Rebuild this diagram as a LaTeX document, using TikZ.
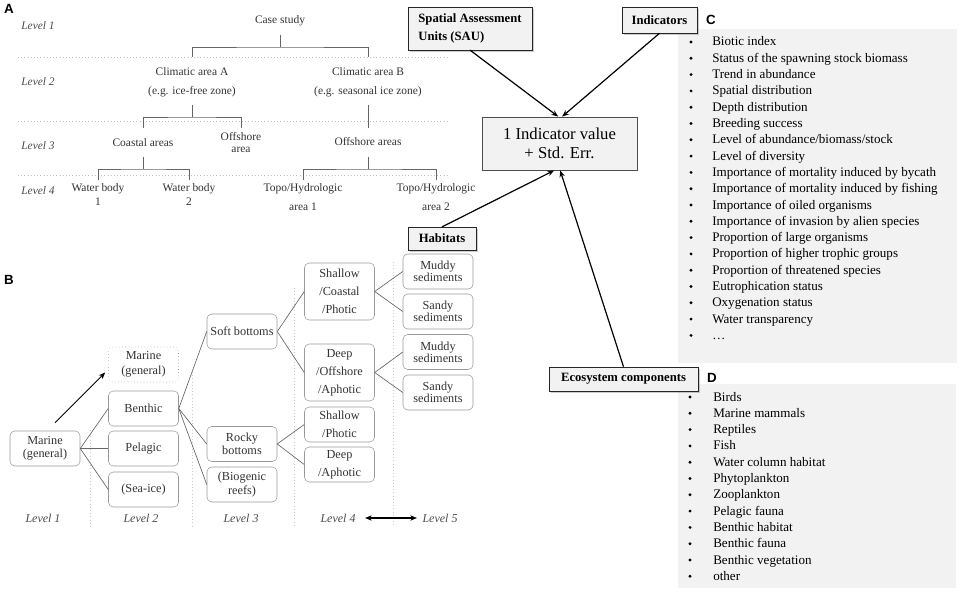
\documentclass[tikz,border=0pt]{standalone}
\usepackage{fontspec}
\setmainfont{Liberation Serif}
\newfontfamily\panelfont{Liberation Sans}
\usetikzlibrary{arrows.meta,shadows}

\begin{document}
\begin{tikzpicture}[>={Stealth[length=5pt,width=4pt]},x=0.75pt,y=-0.75pt,
	ttxt/.style={text=black!80,font=\fontsize{8.6}{10}\selectfont,align=center,inner sep=0pt},
	lvl/.style={text=black!70,font=\fontsize{8.6}{10}\selectfont\itshape,inner sep=0pt},
	hbox/.style={draw=black!40,rounded corners=3.5pt,fill=white,text=black!80,font=\fontsize{9.2}{10}\selectfont,align=center,minimum width=52.5pt,minimum height=26.25pt,inner sep=1pt},
	kbox/.style={draw=black!85,fill=black!5,font=\fontsize{9.5}{11.5}\selectfont\bfseries,drop shadow={shadow xshift=1.5pt,shadow yshift=-1.5pt,opacity=0.4},inner sep=0pt},
	lbl/.style={font=\panelfont\bfseries\fontsize{10}{12}\selectfont,inner sep=0pt},
	item/.style={font=\fontsize{9.8}{12}\selectfont,anchor=base west,inner sep=0pt},
	tree/.style={black!60,line width=0.5pt},
	arr/.style={->,line width=0.9pt}]
	\useasboundingbox (0,0) rectangle (964,592);
	% grey panels C and D
	\fill[black!5] (678,29) rectangle (957,363);
	\fill[black!5] (678,384) rectangle (956,588);
	
	% A: spatial levels
	\node[lbl] (la) at (9,9) {A};
	\foreach \l/\y in {1/26,2/82,3/146,4/191} \node[lvl] (al\l) at (38,\y) {Level \l};
	\foreach \y in {57,121,175} \draw[black!25,dotted] (18,\y) -- (448,\y);
	\node[ttxt] (case) at (280,21) {Case study};
	\node[ttxt] (climA) at (192,82.5) {Climatic area A\\[4.3pt](e.g. ice-free zone)};
	\node[ttxt] (climB) at (368,82.5) {Climatic area B\\[4.3pt](e.g. seasonal ice zone)};
	\node[ttxt] (coast) at (143,143) {Coastal areas};
	\node[ttxt] (offA) at (241,143) {Offshore\\[-1pt]area};
	\node[ttxt] (offB) at (368,142) {Offshore areas};
	\node[ttxt] (wb1) at (98,195) {Water body\\[0.5pt]1};
	\node[ttxt] (wb2) at (189,195) {Water body\\[0.5pt]2};
	\node[ttxt] (th1) at (303,197.5) {Topo/Hydrologic\\[4.3pt]area 1};
	\node[ttxt] (th2) at (436,197.5) {Topo/Hydrologic\\[4.3pt]area 2};
	\foreach \n/\y in {t1/35,j1/47,e1/57,t2/105,j2/117,e2/128,t3/157,j3/169,e3/180} \coordinate (\n) at (0,\y);
	\draw[tree] (case |- t1) -- (case |- j1) (climA |- e1) |- (case |- j1) -| (climB |- e1);
	\draw[tree] (climA |- t2) -- (climA |- j2) (coast |- e2) |- (climA |- j2) -| (offA |- e2);
	\draw[tree] (climB |- t2) -- (climB |- e2);
	\draw[tree] (coast |- t3) -- (coast |- j3) (wb1 |- e3) |- (coast |- j3) -| (wb2 |- e3);
	\draw[tree] (offB |- t3) -- (offB |- j3) (th1 |- e3) |- (offB |- j3) -| (th2 |- e3);
	
	% B: habitat levels
	\node[lbl] (lb) at (9,280) {B};
	\foreach \x/\y in {90/430,192/372,294/288,393/262} \draw[black!20,dotted] (\x,\y) -- (\x,527);
	\node[hbox] (m1) at (45,448.5) {Marine\\(general)};
	\node[hbox,dotted] (m2) at (143.5,364.5) {Marine\\[1.2pt](general)};
	\node[hbox] (benth) at (143.5,408.5) {Benthic};
	\node[hbox] (pelag) at (143.5,448.5) {Pelagic};
	\node[hbox] (seaice) at (143.5,489.5) {(Sea-ice)};
	\node[hbox] (soft) at (242,331.5) {Soft bottoms};
	\node[hbox] (rocky) at (242,444) {Rocky\\bottoms};
	\node[hbox] (biog) at (242,484.5) {(Biogenic\\reefs)};
	\node[hbox,minimum height=42.75pt] (scp) at (339.5,291.5) {Shallow\\[3.5pt]/Coastal\\[3.5pt]/Photic};
	\node[hbox,minimum height=42.75pt] (doa) at (339.5,372.5) {Deep\\[3.5pt]/Offshore\\[3.5pt]/Aphotic};
	\node[hbox] (sp) at (339.5,424.5) {Shallow\\[3.5pt]/Photic};
	\node[hbox] (da) at (339.5,464.5) {Deep\\[3.5pt]/Aphotic};
	\node[hbox] (mud1) at (438,271.5) {Muddy\\[-1pt]sediments};
	\node[hbox] (sand1) at (438,311.5) {Sandy\\[-1pt]sediments};
	\node[hbox] (mud2) at (438,352) {Muddy\\[-1pt]sediments};
	\node[hbox] (sand2) at (438,392.5) {Sandy\\[-1pt]sediments};
	\foreach \a/\b in {m1/benth,m1/pelag,m1/seaice,benth/soft,benth/rocky,benth/biog,soft/scp,soft/doa,rocky/sp,rocky/da,scp/mud1,scp/sand1,doa/mud2,doa/sand2}
		\draw[tree] (\a.east) -- (\b.west);
	\draw[->,line width=0.7pt] ([shift={(10,-8)}]m1.north) -- ([shift={(-3,8)}]m2.west);
	\foreach \l/\x in {1/43,2/141,3/241,4/338,5/440} \node[lvl,font=\fontsize{9}{10}\selectfont\itshape] (bl\l) at (\x,518) {Level \l};
	\draw[<->,line width=0.8pt,shorten <=7pt,shorten >=4pt] (bl4.east) -- (bl5.west);
	
	% centre: inputs of one indicator value
	\node[draw=black!70,fill=black!5,minimum width=116pt,minimum height=40pt,align=center,font=\fontsize{12.5}{14}\selectfont] (val) at (559.5,143.5) {1 Indicator value\\+ Std. Err.};
	\node[kbox,minimum width=93pt,minimum height=32pt,align=left] (sau) at (470,28.5) {Spatial Assessment\\[2.5pt]Units (SAU)};
	\node[kbox,minimum width=56pt,minimum height=19.5pt] (ind) at (659.5,20) {Indicators};
	\node[kbox,minimum width=51pt,minimum height=17pt] (hab) at (442,238.5) {Habitats};
	\node[kbox,minimum width=112pt,minimum height=18pt] (eco) at (623.5,379) {Ecosystem components};
	\draw[arr] (sau.south) -- ([xshift=-1pt]val.north);
	\draw[arr] (ind.south) -- ([xshift=2pt]val.north);
	\draw[arr] (hab.north) -- ([xshift=-4pt]val.south);
	\draw[arr] (eco.north) -- ([xshift=0.5pt]val.south);
	
	% C: indicators
	\node[lbl] (lc) at (711,20) {C};
	\foreach \t [count=\i from 0] in {Biotic index,Status of the spawning stock biomass,Trend in abundance,Spatial distribution,Depth distribution,Breeding success,Level of abundance/biomass/stock,Level of diversity,Importance of mortality induced by bycath,Importance of mortality induced by fishing,Importance of oiled organisms,Importance of invasion by alien species,Proportion of large organisms,Proportion of higher trophic groups,Proportion of threatened species,Eutrophication status,Oxygenation status,Water transparency,\dots}{
		\fill (691,{42+16.3*\i}) circle (1.2pt);
		\node[item] (c\i) at (712,{46+16.3*\i}) {\t};
	}
	
	% D: ecosystem components
	\node[lbl] (ld) at (712,378) {D};
	\foreach \t [count=\i from 0] in {Birds,Marine mammals,Reptiles,Fish,Water column habitat,Phytoplankton,Zooplankton,Pelagic fauna,Benthic habitat,Benthic fauna,Benthic vegetation,other}{
		\fill (690,{397+16.3*\i}) circle (1.2pt);
		\node[item] (d\i) at (713,{401+16.3*\i}) {\t};
	}
\end{tikzpicture}
\end{document}
